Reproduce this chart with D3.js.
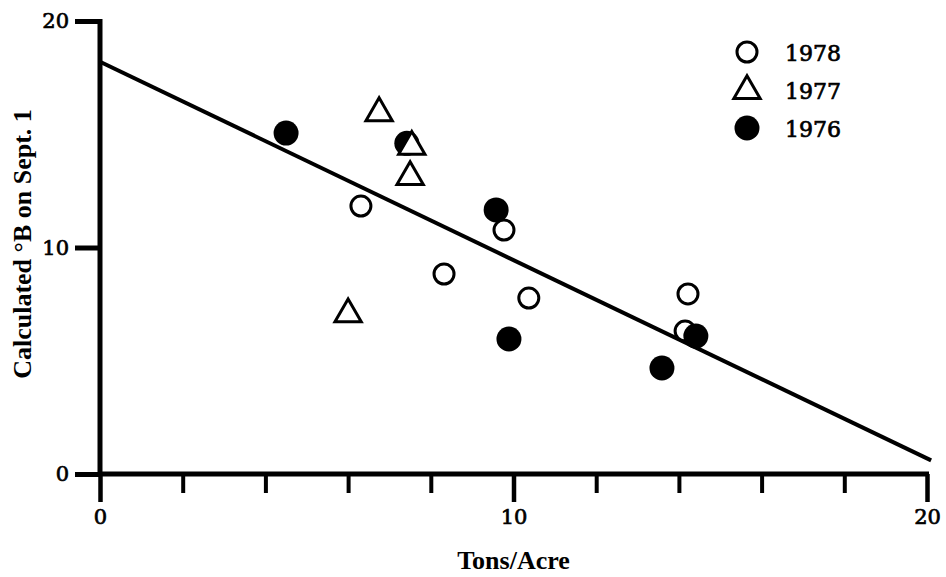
<!DOCTYPE html>
<html>
<head>
<meta charset="utf-8">
<script src="https://cdn.jsdelivr.net/npm/d3@7"></script>
<style>
  body { margin: 0; background: #fff; }
  svg { display: block; }
  .tick-label { font-family: "DejaVu Serif", serif; font-size: 21px; fill: #000; stroke: #000; stroke-width: 0.7px; }
  .legend-label { font-family: "DejaVu Serif", serif; font-size: 22px; fill: #000; stroke: #000; stroke-width: 0.7px; }
  .axis-title { font-family: "Liberation Serif", serif; font-weight: bold; font-size: 26px; fill: #000; }
</style>
</head>
<body>
<svg id="chart" width="946" height="577"></svg>
<script>
// data: [tons/acre, calculated °B]
var years = ['1978', '1977', '1976'];
var points1978 = [[6.31, 11.83], [8.32, 8.83], [9.77, 10.77], [10.37, 7.77], [14.22, 7.95], [14.15, 6.31]];
var points1977 = [[6.75, 15.98], [7.54, 14.5], [7.5, 13.16], [6.0, 7.1]];
var points1976 = [[4.5, 15.05], [7.42, 14.6], [9.58, 11.66], [9.89, 5.96], [13.59, 4.68], [14.41, 6.09]];
var fitLine = [[0, 18.2], [20.1, 0.6]];
var xMajor = [0, 10, 20];
var xMinor = [2, 4, 6, 8, 12, 14, 16, 18];
var yTicks = [0, 10, 20];

var svg = d3.select('#chart');
var x = d3.scaleLinear().domain([0, 20]).range([100, 927]);
var y = d3.scaleLinear().domain([0, 20]).range([474, 21]);

// axes
function styleAxis(g, width) {
  g.select('.domain').remove();
  g.selectAll('.tick line').attr('stroke', '#000').attr('stroke-width', width);
}

svg.append('g')
    .attr('transform', 'translate(0,' + y(0) + ')')
    .call(d3.axisBottom(x).tickValues(xMinor).tickSize(19).tickFormat(''))
    .call(styleAxis, 4);

var xg = svg.append('g')
    .attr('transform', 'translate(0,' + y(0) + ')')
    .call(d3.axisBottom(x).tickValues(xMajor).tickSize(28).tickPadding(7).tickFormat(d3.format('d')))
    .call(styleAxis, 4.5);
xg.selectAll('.tick text').attr('class', 'tick-label').attr('font-size', null).attr('font-family', null);

var yg = svg.append('g')
    .attr('transform', 'translate(' + x(0) + ',0)')
    .call(d3.axisLeft(y).tickValues(yTicks).tickSize(25).tickPadding(6).tickFormat(d3.format('d')))
    .call(styleAxis, 5);
yg.selectAll('.tick text').attr('class', 'tick-label').attr('font-size', null).attr('font-family', null);

// axis lines
svg.append('line')
    .attr('x1', x(0) - 2).attr('x2', x(20) + 2)
    .attr('y1', y(0)).attr('y2', y(0))
    .attr('stroke', '#000').attr('stroke-width', 5);
svg.append('line')
    .attr('x1', x(0)).attr('x2', x(0))
    .attr('y1', y(20) - 2).attr('y2', y(0))
    .attr('stroke', '#000').attr('stroke-width', 5);

// fitted line
svg.append('path')
    .datum(fitLine)
    .attr('d', d3.line().x(function(d) { return x(d[0]); }).y(function(d) { return y(d[1]); }))
    .attr('fill', 'none')
    .attr('stroke', '#000')
    .attr('stroke-width', 4);

// markers
var triangle = d3.symbol().type(d3.symbolTriangle).size(300);

function drawMarker(sel, kind) {
  if (kind === '1977') {
    sel.append('path')
        .attr('d', triangle)
        .attr('transform', 'translate(0,1)')
        .attr('fill', '#fff')
        .attr('stroke', '#000')
        .attr('stroke-width', 3);
  } else if (kind === '1978') {
    sel.append('circle')
        .attr('r', 10)
        .attr('fill', '#fff')
        .attr('stroke', '#000')
        .attr('stroke-width', 3);
  } else {
    sel.append('circle')
        .attr('r', 12.5)
        .attr('fill', '#000');
  }
}

// drawn left to right so overlaps stack as in the original
var all = []
  .concat(points1978.map(function(p) { return {x: p[0], y: p[1], kind: '1978'}; }))
  .concat(points1977.map(function(p) { return {x: p[0], y: p[1], kind: '1977'}; }))
  .concat(points1976.map(function(p) { return {x: p[0], y: p[1], kind: '1976'}; }));
all.sort(function(a, b) { return a.x - b.x; });

svg.append('g').selectAll('g')
    .data(all)
  .enter().append('g')
    .attr('transform', function(d) { return 'translate(' + x(d.x) + ',' + y(d.y) + ')'; })
    .each(function(d) { drawMarker(d3.select(this), d.kind); });

// legend
var legend = svg.append('g').attr('transform', 'translate(747,52)');
years.forEach(function(yr, i) {
  var row = legend.append('g').attr('transform', 'translate(0,' + i * 38 + ')');
  drawMarker(row, yr);
  row.append('text')
      .attr('class', 'legend-label')
      .attr('x', 38)
      .attr('y', 9)
      .text(yr);
});

// titles
svg.append('text')
    .attr('class', 'axis-title')
    .attr('x', x(10))
    .attr('y', 569)
    .attr('text-anchor', 'middle')
    .text('Tons/Acre');

svg.append('text')
    .attr('class', 'axis-title')
    .attr('transform', 'translate(31,244) rotate(-90)')
    .attr('text-anchor', 'middle')
    .attr('font-size', 27)
    .text('Calculated \u00B0B on Sept. 1');
</script>
</body>
</html>
